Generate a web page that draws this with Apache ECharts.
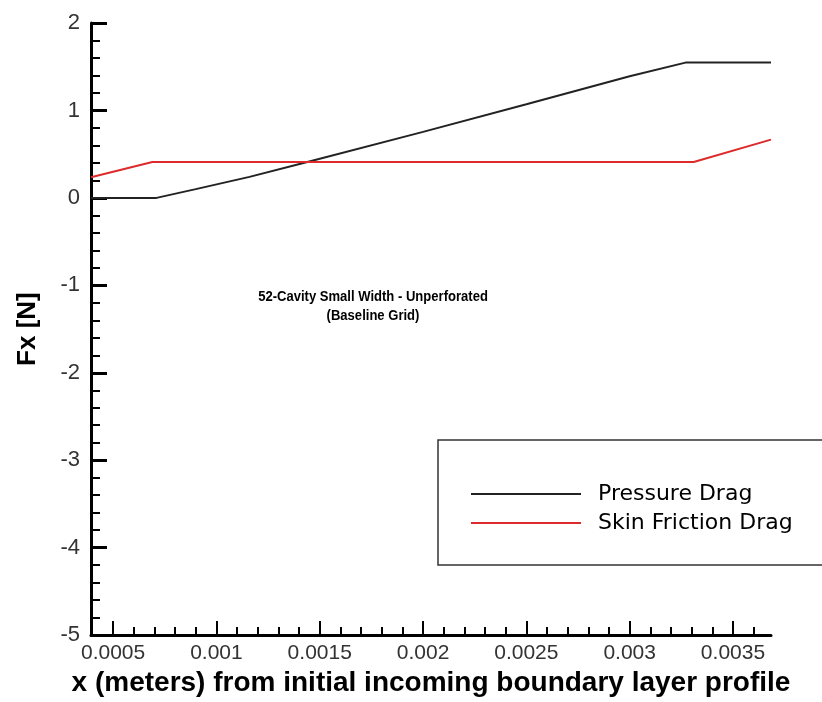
<!DOCTYPE html>
<html>
<head>
<meta charset="utf-8">
<script src="https://cdn.jsdelivr.net/npm/echarts@6/dist/echarts.min.js"></script>
<style>
html,body{margin:0;padding:0;background:#fff;}
#chart{width:822px;height:702px;}
</style>
</head>
<body>
<div id="chart"></div>
<script>
// ---- data ----
const xMin = 0.000393;
const xMax = 0.003684;
const xMajorTicks = [0.0005, 0.001, 0.0015, 0.002, 0.0025, 0.003, 0.0035];
const xTickLabels = ['0.0005', '0.001', '0.0015', '0.002', '0.0025', '0.003', '0.0035'];
const xMinorTicks = [0.0006, 0.0007, 0.0008, 0.0009, 0.0011, 0.0012, 0.0013, 0.0014,
  0.0016, 0.0017, 0.0018, 0.0019, 0.0021, 0.0022, 0.0023, 0.0024,
  0.0026, 0.0027, 0.0028, 0.0029, 0.0031, 0.0032, 0.0033, 0.0034, 0.0036];
const yMin = -5, yMax = 2, yStep = 1;
const yMinorTicks = [-4.8, -4.6, -4.4, -4.2, -3.8, -3.6, -3.4, -3.2, -2.8, -2.6, -2.4, -2.2,
  -1.8, -1.6, -1.4, -1.2, -0.8, -0.6, -0.4, -0.2, 0.2, 0.4, 0.6, 0.8, 1.2, 1.4, 1.6, 1.8];

const pressureX = [0.000393, 0.00071, 0.0009, 0.00116, 0.00144, 0.002, 0.0025, 0.003, 0.00327, 0.003684];
const pressureY = [0, 0, 0.1, 0.24, 0.41, 0.755, 1.07, 1.39, 1.547, 1.547];
const frictionX = [0.000393, 0.00069, 0.00331, 0.003684];
const frictionY = [0.237, 0.41, 0.41, 0.666];

const seriesNames = ['Pressure Drag', 'Skin Friction Drag'];
const annotation = '52-Cavity Small Width - Unperforated\n(Baseline Grid)';
const xTitle = 'x (meters) from initial incoming boundary layer profile';
const yTitle = 'Fx [N]';

const zip = (xs, ys) => xs.map((x, i) => [x, ys[i]]);

const chart = echarts.init(document.getElementById('chart'), null, {renderer: 'canvas'});
const tickFont = 'Liberation Sans';
chart.setOption({
  animation: false,
  backgroundColor: '#fff',
  grid: {left: 91, top: 23, right: 51, bottom: 59, containLabel: false},
  legend: {
    show: true,
    orient: 'vertical',
    left: 438, top: 440,
    padding: [42, 50, 30, 32],
    borderColor: '#333', borderWidth: 1.5,
    itemWidth: 110, itemHeight: 24, itemGap: 5,
    itemStyle: {opacity: 0},
    textStyle: {fontFamily: 'DejaVu Sans', fontSize: 22, color: '#000', lineHeight: 24, padding: [0, 0, 0, 12]},
    data: seriesNames
  },
  xAxis: [{
    type: 'value', min: xMin, max: xMax, position: 'bottom',
    axisLine: {show: true, onZero: false, lineStyle: {color: '#000', width: 3}},
    axisTick: {show: true, inside: true, length: 14, customValues: xMajorTicks, lineStyle: {color: '#000', width: 2}},
    axisLabel: {
      show: true, customValues: xMajorTicks, margin: 8,
      fontFamily: tickFont, fontSize: 21, color: '#333',
      formatter: v => xTickLabels[xMajorTicks.findIndex(t => Math.abs(t - v) < 1e-9)] || ''
    },
    splitLine: {show: false},
    name: xTitle, nameLocation: 'middle', nameGap: 32,
    nameTextStyle: {fontFamily: 'Liberation Sans', fontWeight: 'bold', fontSize: 28, color: '#000'}
  }, {
    type: 'value', min: xMin, max: xMax, position: 'bottom',
    axisLine: {show: false, onZero: false},
    axisTick: {show: true, inside: true, length: 8, customValues: xMinorTicks, lineStyle: {color: '#000', width: 2}},
    axisLabel: {show: false},
    splitLine: {show: false}
  }],
  yAxis: [{
    type: 'value', min: yMin, max: yMax, interval: yStep, position: 'left',
    axisLine: {show: true, onZero: false, lineStyle: {color: '#000', width: 3}},
    axisTick: {show: true, inside: true, length: 16, lineStyle: {color: '#000', width: 3}},
    axisLabel: {margin: 11, fontFamily: tickFont, fontSize: 22, color: '#333'},
    splitLine: {show: false},
    name: yTitle, nameLocation: 'middle', nameGap: 50, nameRotate: 90,
    nameTextStyle: {fontFamily: 'Liberation Sans', fontWeight: 'bold', fontSize: 26, color: '#000'}
  }, {
    type: 'value', min: yMin, max: yMax, position: 'left',
    axisLine: {show: false, onZero: false},
    axisTick: {show: true, inside: true, length: 9, customValues: yMinorTicks, lineStyle: {color: '#000', width: 2}},
    axisLabel: {show: false},
    splitLine: {show: false}
  }],
  graphic: [{
    type: 'text', x: 373, y: 287, scaleX: 0.87,
    style: {
      text: annotation, textAlign: 'center', textVerticalAlign: 'top',
      font: 'bold 15px "Liberation Sans"', lineHeight: 19, fill: '#000'
    }
  }],
  series: [{
    name: seriesNames[0], type: 'line', xAxisIndex: 0, yAxisIndex: 0,
    data: zip(pressureX, pressureY), symbol: 'none',
    lineStyle: {color: '#222', width: 2}, itemStyle: {color: '#222'}
  }, {
    name: seriesNames[1], type: 'line', xAxisIndex: 0, yAxisIndex: 0,
    data: zip(frictionX, frictionY), symbol: 'none',
    lineStyle: {color: '#dd2a2a', width: 2}, itemStyle: {color: '#dd2a2a'}
  }]
});
</script>
</body>
</html>
